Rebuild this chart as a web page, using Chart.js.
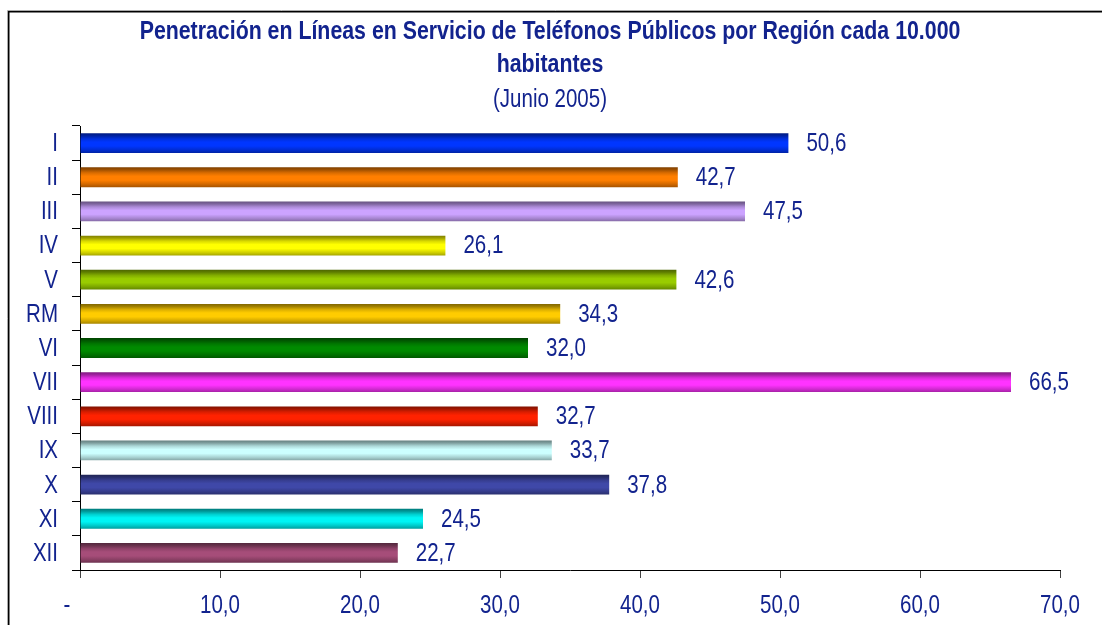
<!DOCTYPE html>
<html>
<head>
<meta charset="utf-8">
<script src="https://cdn.jsdelivr.net/npm/chart.js@4.4.0/dist/chart.umd.min.js"></script>
<style>
html,body{margin:0;padding:0;background:#fff;}
#wrap{position:relative;width:1102px;height:625px;}
</style>
</head>
<body>
<div id="wrap"><canvas id="c" width="1102" height="625"></canvas></div>
<script>
const categories = ['I','II','III','IV','V','RM','VI','VII','VIII','IX','X','XI','XII'];
const values = [50.6, 42.7, 47.5, 26.1, 42.6, 34.3, 32.0, 66.5, 32.7, 33.7, 37.8, 24.5, 22.7];
const barColors = ['#0036FF','#FF7F00','#CCA3FF','#FFFF00','#99CC00','#FFCC00','#008A00','#FF33FF','#FF2200','#CCFFFF','#3F48A8','#00F5F5','#A64D79'];
const xTicks = [0,10,20,30,40,50,60,70];
const titleLines = ['Penetración en Líneas en Servicio de Teléfonos Públicos por Región cada 10.000','habitantes'];
const subtitleText = '(Junio 2005)';

const TXT = '#12238E';
const FAM = "'Liberation Sans', Arial, sans-serif";
const NARROW = 0.82;
const BAR_PCT = 0.58;

function shade(hex, f){
  const n = parseInt(hex.slice(1),16);
  const r=(n>>16)&255,g=(n>>8)&255,b=n&255;
  const m = v => Math.max(0,Math.min(255,Math.round(v*f)));
  return 'rgb('+m(r)+','+m(g)+','+m(b)+')';
}
function fmt(v){ return v.toFixed(1).replace('.',','); }
function tickText(v){ return v===0 ? '-' : fmt(v); }

// draws text with an Arial-Narrow-like horizontal compression
function narrowText(c, text, x, y, align, font){
  c.save();
  c.font = font;
  c.fillStyle = TXT;
  c.textBaseline = 'middle';
  c.textAlign = 'left';
  const w = c.measureText(text).width * NARROW;
  let left = x;
  if(align==='center') left = x - w/2;
  else if(align==='right') left = x - w;
  c.translate(left, y);
  c.scale(NARROW, 1);
  c.fillText(text, 0, 0);
  c.restore();
}

const framePlugin = {
  id:'frame',
  beforeDraw(chart){
    const c = chart.ctx;
    c.save();
    c.strokeStyle = '#aaa'; c.lineWidth = 1;
    c.beginPath(); c.moveTo(7.5,1000); c.lineTo(7.5,10.5); c.lineTo(1200,10.5); c.stroke();
    c.strokeStyle = '#000'; c.lineWidth = 1.5;
    c.beginPath(); c.moveTo(8.75,1000); c.lineTo(8.75,11.75); c.lineTo(1200,11.75); c.stroke();
    c.restore();
  }
};

const textPlugin = {
  id:'texts',
  afterDraw(chart){
    const c = chart.ctx;
    const cx = 550;
    narrowText(c, titleLines[0], cx, 32, 'center', 'bold 26px ' + FAM);
    narrowText(c, titleLines[1], cx, 65, 'center', 'bold 26px ' + FAM);
    narrowText(c, subtitleText, cx, 100, 'center', '25px ' + FAM);

    const xs = chart.scales.x, ys = chart.scales.y;
    xTicks.forEach(v=>{
      const px = xs.getPixelForValue(v);
      narrowText(c, tickText(v), v===0 ? px-13 : px, 606, 'center', '25px ' + FAM);
    });
    categories.forEach((lab,i)=>{
      narrowText(c, lab, ys.left + ys.width - 22, ys.getPixelForValue(i) + 1, 'right', '25px ' + FAM);
    });
    const meta = chart.getDatasetMeta(0);
    meta.data.forEach((el,i)=>{
      narrowText(c, fmt(values[i]), el.x + 18, el.y + 1, 'left', '25px ' + FAM);
    });
  }
};

new Chart(document.getElementById('c'), {
  type:'bar',
  data:{
    labels: categories,
    datasets:[{
      data: values,
      barPercentage: BAR_PCT,
      categoryPercentage: 1,
      borderWidth: 0,
      backgroundColor(ctx){
        const chart = ctx.chart;
        const base = barColors[ctx.dataIndex];
        const ys = chart.scales && chart.scales.y;
        if(!chart.chartArea || !ys) return base;
        const y = ys.getPixelForValue(ctx.dataIndex);
        const h = ys.height / categories.length * BAR_PCT;
        const g = chart.ctx.createLinearGradient(0, y-h/2, 0, y+h/2);
        g.addColorStop(0, shade(base,0.5));
        g.addColorStop(0.12, shade(base,0.62));
        g.addColorStop(0.28, shade(base,0.85));
        g.addColorStop(0.45, shade(base,1.0));
        g.addColorStop(0.65, shade(base,1.0));
        g.addColorStop(0.85, shade(base,0.82));
        g.addColorStop(1, shade(base,0.65));
        return g;
      }
    }]
  },
  options:{
    indexAxis:'y',
    responsive:false,
    animation:false,
    layout:{padding:{left:0,right:42,top:126,bottom:0}},
    plugins:{
      legend:{display:false},
      tooltip:{enabled:false},
      title:{display:false},
      subtitle:{display:false}
    },
    scales:{
      x:{
        type:'linear',
        min:0,max:70,
        afterBuildTicks(scale){ scale.ticks = xTicks.map(v=>({value:v})); },
        afterFit(scale){ scale.height = 55; },
        border:{display:true,color:'#000',width:1},
        grid:{drawOnChartArea:false,drawTicks:true,tickLength:8,color:'#444',lineWidth:1},
        ticks:{display:false}
      },
      y:{
        type:'category',
        offset:true,
        afterFit(scale){ scale.width = 80; },
        border:{display:true,color:'#000',width:1},
        grid:{offset:true,drawOnChartArea:false,drawTicks:true,tickLength:8,color:'#000',lineWidth:1},
        ticks:{display:false}
      }
    }
  },
  plugins:[framePlugin,textPlugin]
});
</script>
</body>
</html>
